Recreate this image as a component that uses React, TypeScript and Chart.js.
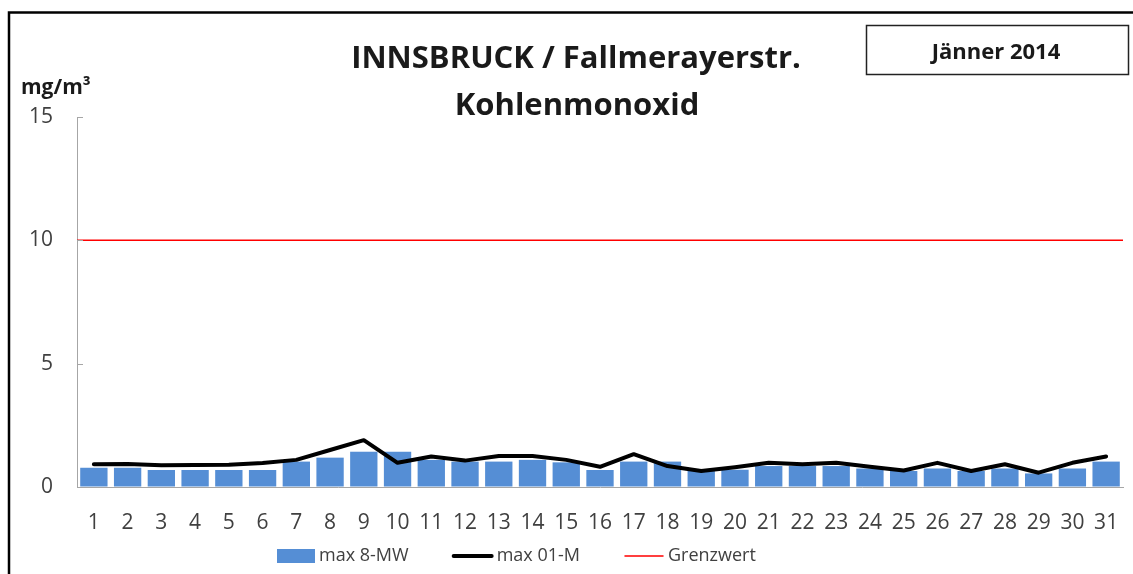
import { useEffect, useRef } from "react";
import { Chart, registerables } from "chart.js";

Chart.register(...registerables);

const days = [1,2,3,4,5,6,7,8,9,10,11,12,13,14,15,16,17,18,19,20,21,22,23,24,25,26,27,28,29,30,31];
const dayLabels = ["1","2","3","4","5","6","7","8","9","10","11","12","13","14","15","16","17","18","19","20","21","22","23","24","25","26","27","28","29","30","31"];
const max8MW = [0.78,0.78,0.69,0.69,0.69,0.69,1.03,1.19,1.43,1.43,1.1,1.03,1.03,1.1,1.0,0.69,1.03,1.03,0.65,0.7,0.85,0.85,0.85,0.75,0.65,0.75,0.65,0.75,0.55,0.75,1.03];
const max01M = [0.92,0.93,0.88,0.89,0.9,0.97,1.1,1.5,1.9,0.98,1.24,1.07,1.26,1.26,1.1,0.82,1.33,0.85,0.65,0.8,0.98,0.92,0.98,0.82,0.67,0.98,0.65,0.92,0.58,0.98,1.24];
const grenzwert = [10, 10];
const xRange = [0.5, 31.5];
const yTicks = [0, 5, 10, 15];
const titleLines = ["INNSBRUCK / Fallmerayerstr.", "Kohlenmonoxid"];
const periodLabel = "Jänner 2014";
const unitLabel = "mg/m³";
const seriesNames = ["max 8-MW", "max 01-M", "Grenzwert"];

const FONT = "'Open Sans', 'Liberation Sans', sans-serif";
const TEXT = "#404040";
const AXIS = "#a6a6a6";

const decor = {
  id: "decor",
  afterDraw(chart: any) {
    const ctx = chart.ctx as CanvasRenderingContext2D;
    const area = chart.chartArea;
    const ys = chart.scales.y;
    ctx.save();
    ctx.strokeStyle = AXIS;
    ctx.lineWidth = 1;
    for (const t of ys.ticks) {
      const py = Math.round(ys.getPixelForValue(t.value)) + 0.5;
      ctx.beginPath();
      ctx.moveTo(area.left, py);
      ctx.lineTo(area.left + 6, py);
      ctx.stroke();
    }
    ctx.strokeStyle = "#000";
    ctx.lineWidth = 2.5;
    ctx.strokeRect(9, 12.5, 3000, 3000);
    ctx.fillStyle = "#1a1a1a";
    ctx.textAlign = "center";
    ctx.textBaseline = "alphabetic";
    ctx.font = `bold 31px ${FONT}`;
    ctx.fillText(titleLines[0], 576, 68);
    ctx.fillText(titleLines[1], 577, 115);
    ctx.strokeStyle = "#222";
    ctx.lineWidth = 1.5;
    ctx.strokeRect(866.5, 25.5, 262, 49);
    ctx.font = `bold 22px ${FONT}`;
    ctx.fillText(periodLabel, 996, 59);
    ctx.textAlign = "left";
    ctx.font = `bold 21px ${FONT}`;
    ctx.fillText(unitLabel, 21, 94);
    const ds = chart.data.datasets;
    const ly = 556;
    let x = 277;
    ctx.font = `18px ${FONT}`;
    ctx.textBaseline = "middle";
    ds.forEach((d: any) => {
      const w = 38;
      if (d.type === "bar") {
        ctx.fillStyle = d.backgroundColor;
        ctx.fillRect(x, ly - 7, w, 14);
      } else {
        ctx.strokeStyle = d.borderColor;
        ctx.lineWidth = d.borderWidth;
        ctx.lineCap = "round";
        ctx.beginPath();
        ctx.moveTo(x - 1, ly);
        ctx.lineTo(x + w - 1, ly);
        ctx.stroke();
      }
      ctx.fillStyle = TEXT;
      ctx.fillText(d.label, x + w + 4, ly);
      x += w + 4 + ctx.measureText(d.label).width + 46;
    });
    ctx.restore();
  },
};

export default function App() {
  const ref = useRef<HTMLCanvasElement | null>(null);
  useEffect(() => {
    if (!ref.current) return;
    const chart = new Chart(ref.current, {
      type: "bar",
      data: {
        datasets: [
          {
            type: "bar",
            label: seriesNames[0],
            data: days.map((d, i) => ({ x: d, y: max8MW[i] })),
            backgroundColor: "#558ed5",
            borderWidth: 0,
            categoryPercentage: 1,
            barPercentage: 0.81,
            grouped: false,
            order: 3,
          } as any,
          {
            type: "line",
            label: seriesNames[1],
            data: days.map((d, i) => ({ x: d, y: max01M[i] })),
            borderColor: "#000000",
            backgroundColor: "#000000",
            borderWidth: 4,
            pointRadius: 0,
            tension: 0,
            borderJoinStyle: "round",
            borderCapStyle: "round",
            order: 1,
          } as any,
          {
            type: "line",
            label: seriesNames[2],
            data: xRange.map((xv, i) => ({ x: xv, y: grenzwert[i] })),
            borderColor: "#ff0000",
            backgroundColor: "#ff0000",
            borderWidth: 1.5,
            pointRadius: 0,
            order: 0,
          } as any,
        ],
      },
      options: {
        responsive: false,
        devicePixelRatio: 1,
        animation: false,
        layout: { padding: { left: 0, right: 10, top: 117, bottom: 27 } },
        plugins: { legend: { display: false }, title: { display: false }, tooltip: { enabled: false } },
        scales: {
          x: {
            type: "linear",
            offset: false,
            min: xRange[0],
            max: xRange[1],
            afterBuildTicks: (s: any) => { s.ticks = days.map((v) => ({ value: v })); },
            grid: { display: true, offset: false, drawOnChartArea: false, drawTicks: false },
            border: { display: true, color: AXIS, width: 1 },
            ticks: {
              color: TEXT,
              font: { family: FONT, size: 21 },
              padding: 23,
              maxRotation: 0,
              autoSkip: false,
              callback: (v: any) => dayLabels[days.indexOf(Number(v))] ?? "",
            },
            afterFit: (s: any) => {
              s.height = 60;
              s.paddingLeft = 0;
              s.paddingRight = 0;
            },
          },
          y: {
            min: yTicks[0],
            max: yTicks[yTicks.length - 1],
            afterBuildTicks: (s: any) => { s.ticks = yTicks.map((v) => ({ value: v })); },
            grid: { display: true, drawOnChartArea: false, drawTicks: false },
            border: { display: true, color: AXIS, width: 1 },
            ticks: { color: TEXT, font: { family: FONT, size: 21 }, padding: 24 },
            afterFit: (s: any) => {
              s.width = 77;
              s.paddingTop = 0;
              s.paddingBottom = 0;
            },
          },
        },
      } as any,
      plugins: [decor],
    });
    return () => chart.destroy();
  }, []);
  return (
    <div style={{ position: "absolute", left: 0, top: 0, width: 1133, height: 574, background: "#fff", overflow: "hidden" }}>
      <canvas ref={ref} width={1133} height={574} style={{ display: "block", width: 1133, height: 574 }} />
    </div>
  );
}
